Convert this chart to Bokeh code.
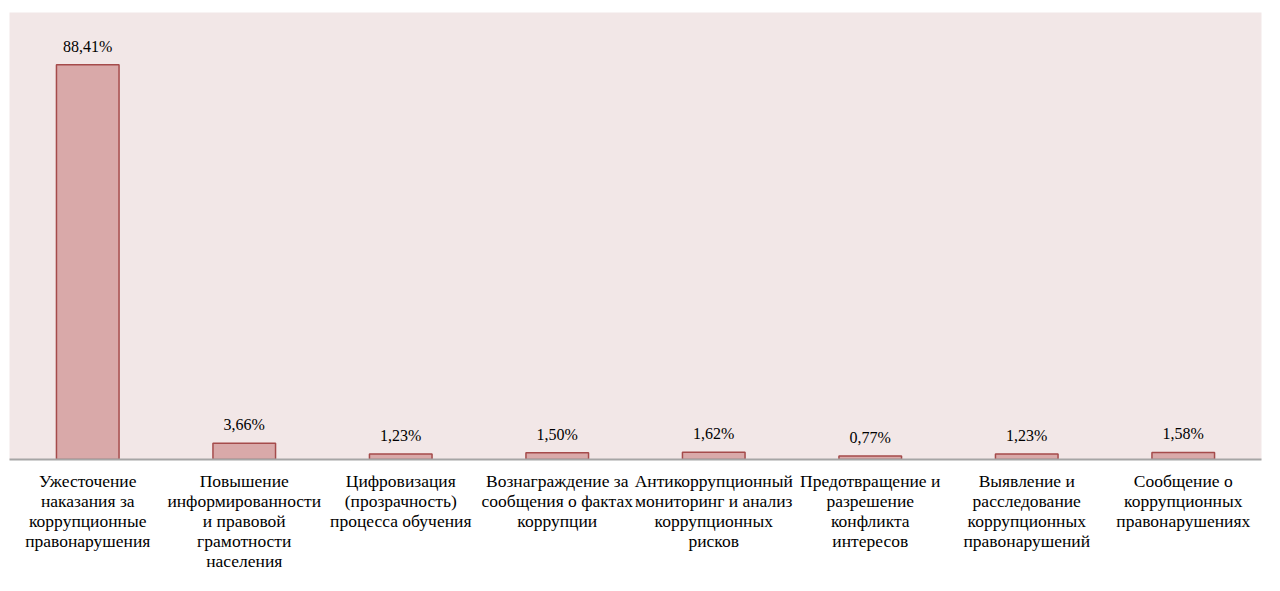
from bokeh.plotting import figure
from bokeh.models import ColumnDataSource, FactorRange, Range1d
from bokeh.core.properties import value
from bokeh.embed import file_html
from bokeh.resources import INLINE

categories = [
    "Ужесточение\nнаказания за\nкоррупционные\nправонарушения",
    "Повышение\nинформированности\nи правовой\nграмотности\nнаселения",
    "Цифровизация\n(прозрачность)\nпроцесса обучения",
    "Вознаграждение за\nсообщения о фактах\nкоррупции",
    "Антикоррупционный\nмониторинг и анализ\nкоррупционных\nрисков",
    "Предотвращение и\nразрешение\nконфликта\nинтересов",
    "Выявление и\nрасследование\nкоррупционных\nправонарушений",
    "Сообщение о\nкоррупционных\nправонарушениях",
]
values = [88.41, 3.66, 1.23, 1.50, 1.62, 0.77, 1.23, 1.58]
labels = [("%.2f" % v).replace(".", ",") + "%" for v in values]

source = ColumnDataSource(dict(cat=categories, val=values, lab=labels))

p = figure(
    width=1264, height=587,
    x_range=FactorRange(*categories, range_padding=0),
    y_range=Range1d(0, 100.1),
    output_backend="svg", toolbar_location=None,
    min_border_left=9, min_border_right=3, min_border_top=12, min_border_bottom=128,
)
p.background_fill_color = "#F2E7E7"
p.border_fill_color = "white"
p.outline_line_color = None
p.grid.visible = False
p.yaxis.visible = False

p.vbar(x="cat", top="val", width=0.4, source=source,
       fill_color="#D9A9A9", line_color="#A54B4B", line_width=1.5)

p.text(x="cat", y="val", text="lab", source=source,
       text_align="center", text_baseline="bottom", y_offset=-10,
       text_font=value("Liberation Serif"), text_font_size="16px",
       text_color="#000000")

xa = p.xaxis[0]
xa.axis_line_color = "#A6A6A6"
xa.axis_line_width = 2
xa.major_tick_line_color = None
xa.minor_tick_line_color = None
xa.major_label_text_font = "Liberation Serif"
xa.major_label_text_font_size = "17.5px"
xa.major_label_text_color = "#000000"
xa.major_label_standoff = 5
xa.major_label_text_line_height = 1.0
xa.major_label_orientation = "horizontal"

open("out.html", "w").write(file_html(p, INLINE))
